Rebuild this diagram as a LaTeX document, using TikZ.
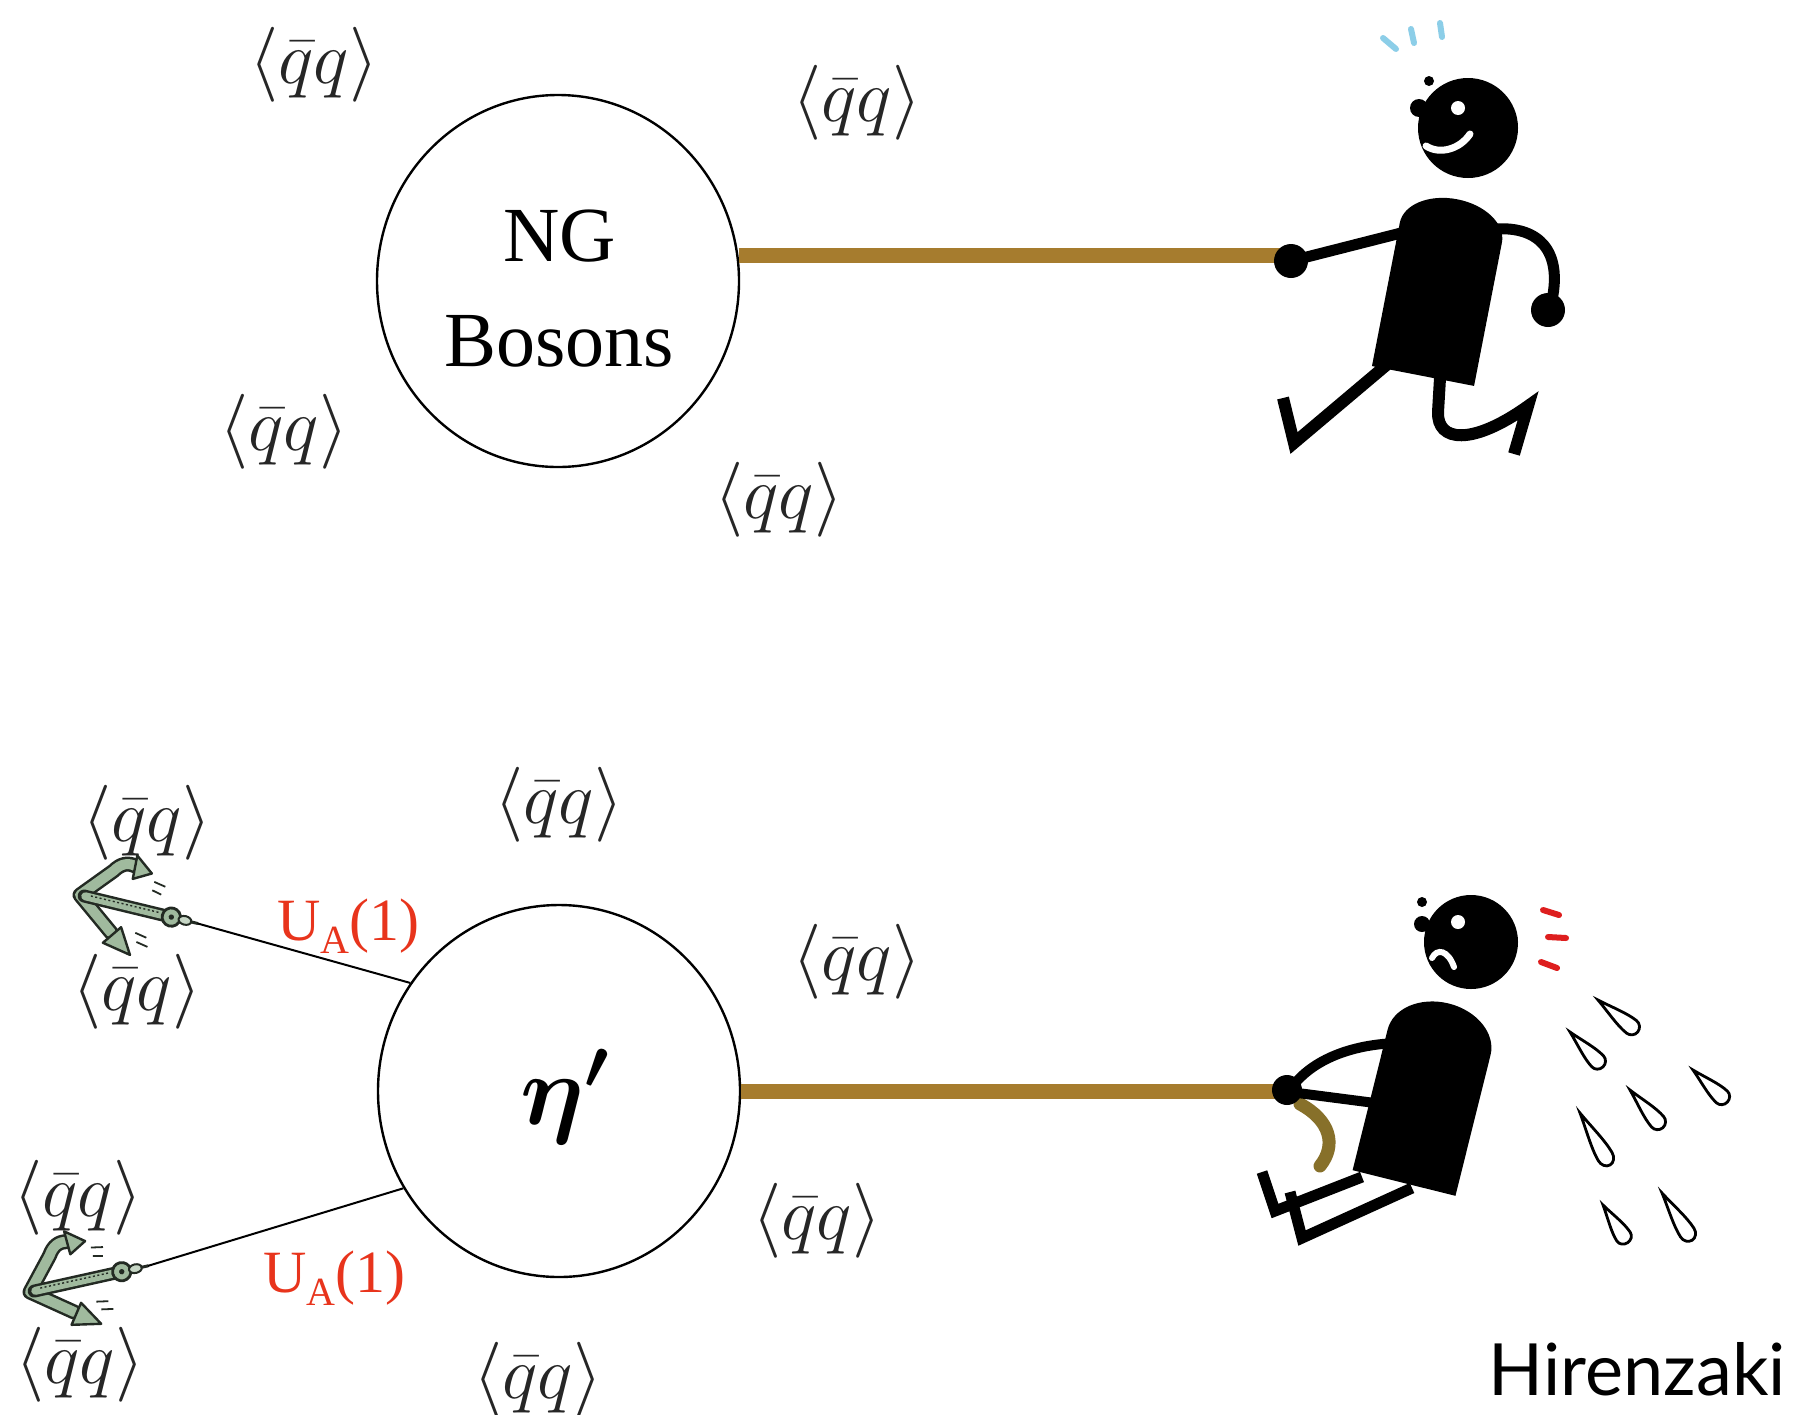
\RequirePackage{fix-cm}
\documentclass[tikz,border=0pt]{standalone}
\usepackage{amsmath}
\usepackage{fontspec}
\usetikzlibrary{shapes.geometric}
\newfontfamily\timesfont{Liberation Serif}
\newfontfamily\signfont{Lato}
\definecolor{ropebrown}{RGB}{166,124,46}
\definecolor{tailbrown}{RGB}{135,112,42}
\definecolor{anchorgreen}{RGB}{160,186,158}
\definecolor{anchordark}{RGB}{35,42,35}
\definecolor{uared}{RGB}{232,52,28}
\definecolor{sweatblue}{RGB}{140,206,232}
\definecolor{alarmred}{RGB}{222,30,30}
\tikzset{
  bubble/.style={ellipse, draw, line width=2.4, minimum width=362, minimum height=372, inner sep=0},
  qq/.style={inner sep=0, text=black!85, font=\fontsize{75}{90}\selectfont},
  bigserif/.style={inner sep=0, font=\timesfont\fontsize{78}{94}\selectfont},
  ualabel/.style={inner sep=0, text=uared, font=\timesfont\fontsize{60}{70}\selectfont},
  rope/.style={ropebrown, line width=15},
  tether/.style={black, line width=2},
  limb/.style={black, line width=11, line cap=round, line join=round},
  stiff/.style={black, line width=12, line cap=butt, line join=miter},
  fluke/.style={fill=anchorgreen, draw=anchordark, line width=2.4, line join=round},
  pics/sweatdrop/.style={code={
    \draw[black, line width=2.8] (0,0) .. controls (15,3) and (30,8) .. (42,8)
      arc[start angle=90, end angle=-90, radius=8] .. controls (30,-8) and (15,-3) .. cycle;
  }},
  pics/anchorpic/.style={code={
    % arms: dark outline under a green core
    \draw[anchordark, line width=15, line cap=round, line join=round]
      (44,-38) .. controls (36,-40) and (30,-37) .. (25,-29) -- (0,0) -- (36,27);
    \draw[anchorgreen, line width=10, line cap=round, line join=round]
      (44,-38) .. controls (36,-40) and (30,-37) .. (25,-29) -- (0,0) -- (36,27);
    % flukes
    \path[fluke] (60,-35) -- (43,-48) -- (44,-26) -- cycle;
    \path[fluke] (58,43) -- (31,38) -- (44,20) -- cycle;
    % shank with its chain-like texture
    \draw[anchordark, line width=13, line cap=round] (4,0) -- (80,0);
    \draw[anchorgreen, line width=8, line cap=round] (5,0) -- (79,0);
    \draw[anchordark, line width=1.4, dash pattern=on 2 off 2.5] (10,-1.5) -- (76,-1.5);
    % ring and shackle
    \filldraw[fill=anchorgreen, draw=anchordark, line width=2.8] (87,0) circle[radius=8.5];
    \fill[anchordark] (87,0) circle[radius=2.5];
    \filldraw[fill=anchorgreen!60!white, draw=anchordark, line width=2] (100,0) ellipse[x radius=6, y radius=4];
    \draw[anchordark, line width=3, line cap=round] (106,0) -- (112,0);
    \coordinate (-ring) at (112,0);
    % motion marks
    \draw[anchordark, line width=1.8] (64,-28) -- (75,-26) (64,-20) -- (73,-18);
    \draw[anchordark, line width=1.8] (58,22) -- (69,24) (61,30) -- (72,32);
  }}
}
\begin{document}
\begin{tikzpicture}[x=1pt, y=-1pt]
\useasboundingbox (0,0) rectangle (1796,1414);
\fill[white] (0,0) rectangle (1796,1414);

% ---------- upper panel: NG bosons ----------
\node[bubble] (ng) at (558,281) {};
\node[bigserif, anchor=base] (ngtxt) at (560,261) {NG};
\node[bigserif, anchor=base] (bostxt) at (559,366) {Bosons};

\node[qq] (c1) at (314,65) {$\langle\bar q q\rangle$};
\node[qq] (c2) at (857,103) {$\langle\bar q q\rangle$};
\node[qq] (c3) at (284,432) {$\langle\bar q q\rangle$};
\node[qq] (c4) at (779,500) {$\langle\bar q q\rangle$};

% running figure
\coordinate (handA) at (1291,261);
\draw[rope] (ng.8) -- (ng.8 -| handA);
\draw[sweatblue, line width=6, line cap=round] (1383,38) -- (1396,49) (1411,29) -- (1414,43) (1440,23) -- (1442,37);
\fill (1468,128) circle[radius=50];
\fill (1419,108) circle[radius=9];
\fill (1429,81) circle[radius=5];
\fill[white] (1458,108) circle[radius=7];
\draw[white, line width=7, line cap=round] (1426,146) .. controls (1440,155) and (1460,149) .. (1470,134);
\begin{scope}[shift={(1423,376)}, rotate=-11]
  \fill (-52,0) -- (-52,-146) arc[start angle=180, end angle=360, x radius=52, y radius=34] -- (52,0) -- cycle;
\end{scope}
\draw[limb] (1405,232) -- (handA);
\fill (handA) circle[radius=17];
\draw[limb] (1495,229) .. controls (1540,226) and (1562,252) .. (1552,300);
\fill (1548,310) circle[radius=17];
\draw[stiff] (1390,362) -- (1294,443) -- (1283,398);
\draw[stiff] (1440,378) -- (1438,412) .. controls (1437,442) and (1472,446) .. (1528,406) -- (1514,454);

% ---------- lower panel: eta prime ----------
\node[bubble] (eta) at (559,1091) {};
\node[inner sep=0, font=\fontsize{100}{120}\selectfont] (etatxt) at (565,1097) {$\boldsymbol{\eta'}$};

\node[qq] (c5) at (559,805) {$\langle\bar q q\rangle$};
\node[qq] (c6) at (147,823) {$\langle\bar q q\rangle$};
\node[qq] (c7) at (137,992) {$\langle\bar q q\rangle$};
\node[qq] (c8) at (857,962) {$\langle\bar q q\rangle$};
\node[qq] (c9) at (78,1198) {$\langle\bar q q\rangle$};
\node[qq] (c10) at (817,1221) {$\langle\bar q q\rangle$};
\node[qq] (c11) at (80,1365) {$\langle\bar q q\rangle$};
\node[qq] (c12) at (538,1380) {$\langle\bar q q\rangle$};

% anchors holding the eta'
\pic[rotate=-13.6, scale=1.08] (ancA) at (80,895) {anchorpic};
\pic[rotate=12.5, scale=1.08] (ancB) at (30,1292) {anchorpic};
\draw[tether] (ancA-ring) -- (eta.144);
\draw[tether] (ancB-ring) -- (eta.212);
\node[ualabel, anchor=base west] (ua1) at (277,940) {U\raisebox{-0.22em}{\fontsize{40}{40}\selectfont A}(1)};
\node[ualabel, anchor=base west] (ua2) at (263,1292) {U\raisebox{-0.22em}{\fontsize{40}{40}\selectfont A}(1)};

% straining figure
\coordinate (handB) at (1287,1090);
\draw[rope] (eta.east) -- (eta.east -| handB);
\draw[tailbrown, line width=13, line cap=round] (1300,1104) .. controls (1330,1120) and (1337,1145) .. (1320,1166);
\fill (1471,942) circle[radius=47];
\fill (1422,924) circle[radius=8];
\fill (1422,902) circle[radius=5];
\fill[white] (1458,922) circle[radius=7];
\draw[white, line width=6, line cap=round] (1432,958) .. controls (1437,948) and (1448,950) .. (1454,967);
\draw[alarmred, line width=6, line cap=round] (1543,910) -- (1559,915) (1548,937) -- (1566,938) (1541,962) -- (1557,968);
\begin{scope}[shift={(1404,1183)}, rotate=-14]
  \fill (-53,0) -- (-53,-145) arc[start angle=180, end angle=360, x radius=53, y radius=40] -- (53,0) -- cycle;
\end{scope}
\draw[limb, line width=10] (1296,1082) .. controls (1320,1055) and (1360,1044) .. (1398,1043);
\draw[limb, line width=10] (1290,1092) -- (1375,1103);
\fill (handB) circle[radius=15];
\draw[stiff, line width=11] (1262,1172) -- (1275,1211) -- (1362,1177);
\draw[stiff, line width=11] (1290,1192) -- (1302,1238) -- (1412,1188);

% sweat drops
\pic[rotate=-38.7, xscale=1.02] at (1598,1000) {sweatdrop};
\pic[rotate=-46.7, xscale=0.96] at (1570,1032) {sweatdrop};
\pic[rotate=-43, xscale=0.94] at (1693,1070) {sweatdrop};
\pic[rotate=-49, xscale=1.0] at (1630,1090) {sweatdrop};
\pic[rotate=-60, xscale=1.2] at (1580,1113) {sweatdrop};
\pic[rotate=-57, xscale=0.9] at (1603,1205) {sweatdrop};
\pic[rotate=-57.5, xscale=1.12] at (1662,1193) {sweatdrop};

% signature
\node[inner sep=0, anchor=base east, font=\signfont\fontsize{72}{86}\selectfont] (sig) at (1786,1395) {Hirenzaki};
\end{tikzpicture}
\end{document}
